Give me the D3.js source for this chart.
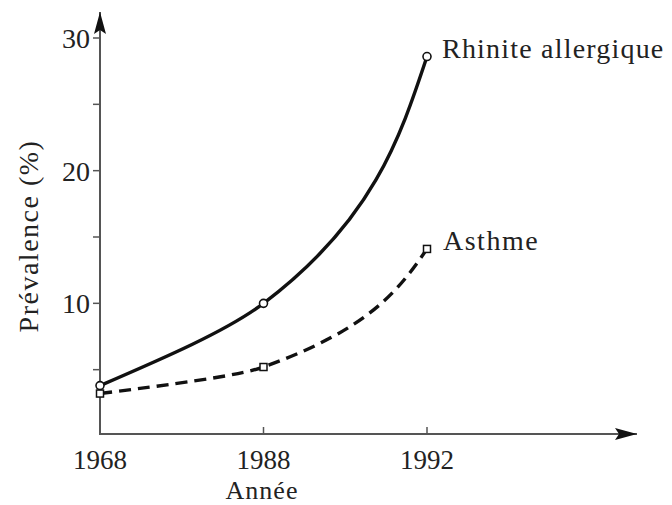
<!DOCTYPE html>
<html>
<head>
<meta charset="utf-8">
<script src="https://cdn.jsdelivr.net/npm/d3@7"></script>
<style>
  body { margin: 0; background: #fff; }
  text { font-family: "Liberation Serif", "DejaVu Serif", serif; fill: #222; }
</style>
</head>
<body>
<svg id="chart" width="672" height="505"></svg>
<script>
// data
var years = ["1968", "1988", "1992"];
var rhinite = [3.8, 10.0, 28.6];
var asthme = [3.2, 5.2, 14.1];
var majorTicks = [10, 20, 30];
var minorTicks = [5, 15, 25];

var svg = d3.select("#chart");
var axisColor = "#555";

var x = d3.scalePoint()
  .domain(years)
  .range([100, 427]);

var y = d3.scaleLinear()
  .domain([0, 30])
  .range([436, 38]);

// arrow heads
var defs = svg.append("defs");
defs.append("marker")
  .attr("id", "arrow")
  .attr("viewBox", "0 0 22 12")
  .attr("refX", 22).attr("refY", 6)
  .attr("markerWidth", 22).attr("markerHeight", 12)
  .attr("markerUnits", "userSpaceOnUse")
  .attr("orient", "auto")
  .append("path")
  .attr("d", "M0,0 L22,6 L0,12 L4,6 Z")
  .attr("fill", "#111");

// x axis
svg.append("line")
  .attr("x1", 100).attr("x2", 637)
  .attr("y1", 434).attr("y2", 434)
  .attr("stroke", axisColor).attr("stroke-width", 2)
  .attr("marker-end", "url(#arrow)");

svg.selectAll(".xtick")
  .data(years)
  .enter().append("line")
  .attr("class", "xtick")
  .attr("x1", function(d) { return x(d); })
  .attr("x2", function(d) { return x(d); })
  .attr("y1", 434).attr("y2", 427)
  .attr("stroke", axisColor).attr("stroke-width", 1.5);

svg.selectAll(".xlabel")
  .data(years)
  .enter().append("text")
  .attr("class", "xlabel")
  .attr("x", function(d) { return x(d); })
  .attr("y", 469)
  .attr("text-anchor", "middle")
  .style("font-size", "27px")
  .text(function(d) { return d; });

// y axis
svg.append("line")
  .attr("x1", 100).attr("x2", 100)
  .attr("y1", 435).attr("y2", 12)
  .attr("stroke", axisColor).attr("stroke-width", 2)
  .attr("marker-end", "url(#arrow)");

svg.selectAll(".ytick")
  .data(majorTicks.concat(minorTicks))
  .enter().append("line")
  .attr("class", "ytick")
  .attr("x1", 93).attr("x2", 100)
  .attr("y1", function(d) { return y(d); })
  .attr("y2", function(d) { return y(d); })
  .attr("stroke", axisColor).attr("stroke-width", 1.5);

svg.selectAll(".ylabel")
  .data(majorTicks)
  .enter().append("text")
  .attr("class", "ylabel")
  .attr("x", 90)
  .attr("y", function(d) { return y(d) + 10; })
  .attr("text-anchor", "end")
  .style("font-size", "28px")
  .text(function(d) { return d; });

svg.append("text")
  .attr("x", 262).attr("y", 499)
  .attr("text-anchor", "middle")
  .style("font-size", "26px")
  .style("letter-spacing", "1px")
  .text("Année");

svg.append("text")
  .attr("transform", "translate(38,236) rotate(-90)")
  .attr("text-anchor", "middle")
  .style("font-size", "28px")
  .style("letter-spacing", "1.5px")
  .text("Prévalence (%)");

// curves
var line = d3.line()
  .x(function(d, i) { return x(years[i]); })
  .y(function(d) { return y(d); })
  .curve(d3.curveMonotoneY);

svg.append("path")
  .datum(rhinite)
  .attr("d", line)
  .attr("fill", "none")
  .attr("stroke", "#111")
  .attr("stroke-width", 3.4);

svg.append("path")
  .datum(asthme)
  .attr("d", line)
  .attr("fill", "none")
  .attr("stroke", "#111")
  .attr("stroke-width", 3.4)
  .attr("stroke-dasharray", "12,7");

// markers
svg.selectAll(".rpt")
  .data(rhinite)
  .enter().append("circle")
  .attr("class", "rpt")
  .attr("cx", function(d, i) { return x(years[i]); })
  .attr("cy", function(d) { return y(d); })
  .attr("r", 4)
  .attr("fill", "#fff")
  .attr("stroke", "#111")
  .attr("stroke-width", 1.6);

svg.selectAll(".apt")
  .data(asthme)
  .enter().append("rect")
  .attr("class", "apt")
  .attr("x", function(d, i) { return x(years[i]) - 3.5; })
  .attr("y", function(d) { return y(d) - 3.5; })
  .attr("width", 7).attr("height", 7)
  .attr("fill", "#fff")
  .attr("stroke", "#111")
  .attr("stroke-width", 1.5);

// series labels
svg.append("text")
  .attr("x", 442).attr("y", 58)
  .style("font-size", "28px")
  .style("letter-spacing", "1.2px")
  .text("Rhinite allergique");

svg.append("text")
  .attr("x", 443).attr("y", 250)
  .style("font-size", "28px")
  .style("letter-spacing", "1.5px")
  .text("Asthme");
</script>
</body>
</html>
